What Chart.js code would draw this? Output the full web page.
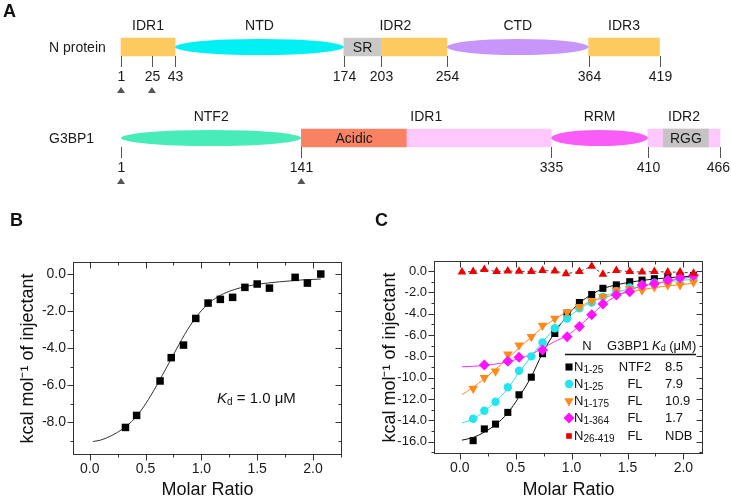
<!DOCTYPE html>
<html>
<head>
<meta charset="utf-8">
<script src="https://cdn.jsdelivr.net/npm/chart.js@4.4.1/dist/chart.umd.min.js"></script>
<style>
  body { margin: 0; background: #fff; width: 731px; height: 498px; overflow: hidden; position: relative; }
  canvas { position: absolute; }
</style>
</head>
<body>
<canvas id="chartA" width="731" height="200" style="left:0;top:0"></canvas>
<canvas id="chartB" width="365" height="300" style="left:0;top:200px"></canvas>
<canvas id="chartC" width="366" height="300" style="left:365px;top:200px"></canvas>
<script>
// ---- panel A : domain maps (residue numbers) ----
var rowNames = ['N protein', 'G3BP1'];

var nDomains = ['IDR1', 'NTD', 'SR', 'IDR2', 'CTD', 'IDR3'];
var nStart = [1, 43, 174, 203, 254, 364];
var nEnd = [43, 174, 203, 254, 364, 419];
var nHeads = ['IDR1', 'NTD', 'IDR2', 'CTD', 'IDR3'];
var nHeadFrom = [1, 43, 174, 254, 364];
var nHeadTo = [43, 174, 254, 364, 419];
var nTicks = [1, 25, 43, 174, 203, 254, 364, 419];
var nMarks = [1, 25];

var gDomains = ['NTF2', 'Acidic', 'IDR1', 'RRM', 'IDR2', 'RGG'];
var gStart = [1, 141, 223, 335, 410, 422];
var gEnd = [141, 223, 335, 410, 466, 457];
var gHeads = ['NTF2', 'IDR1', 'RRM', 'IDR2'];
var gHeadFrom = [1, 141, 335, 410];
var gHeadTo = [141, 335, 410, 466];
var gTicks = [1, 141, 335, 410, 466];
var gMarks = [1, 141];

// ---- panel B : N1-25 vs NTF2 ----
var bRatio = [0.32, 0.42, 0.63, 0.73, 0.84, 0.95, 1.06, 1.17, 1.28, 1.39, 1.50, 1.61, 1.84, 1.95, 2.07];
var bHeat = [-8.29, -7.64, -5.78, -4.52, -3.84, -2.40, -1.57, -1.37, -1.26, -0.72, -0.54, -0.76, -0.18, -0.49, 0.0];
var bFitRatio = [0.03, 0.1, 0.2, 0.3, 0.4, 0.5, 0.6, 0.7, 0.8, 0.9, 1.0, 1.1, 1.2, 1.3, 1.4, 1.5, 1.6, 1.7, 1.8, 1.9, 2.07];
var bFitHeat = [-9.05, -8.97, -8.72, -8.35, -7.82, -7.02, -6.02, -4.92, -3.8, -2.78, -1.98, -1.42, -1.06, -0.83, -0.67, -0.56, -0.48, -0.42, -0.37, -0.32, -0.27];
var bXTicks = [0, 0.5, 1.0, 1.5, 2.0];
var bYTicks = [0, -2, -4, -6, -8];

// ---- panel C : ITC of N fragments ----
var cRatio = [0.12, 0.22, 0.32, 0.43, 0.53, 0.64, 0.74, 0.85, 0.96, 1.07, 1.18, 1.28, 1.40, 1.52, 1.63, 1.74, 1.86, 1.97, 2.09];
var cN125Ntf2 = [-15.9, -14.8, -14.35, -13.25, -11.6, -9.95, -7.75, -5.85, -3.95, -2.95, -2.2, -1.62, -1.3, -1.0, -0.85, -0.72, -0.56, -0.47, -0.42];
var cN125FL = [-13.85, -13.1, -12.25, -10.9, -9.35, -8.0, -6.7, -5.37, -4.45, -3.5, -2.95, -2.4, -1.9, -1.55, -1.3, -1.1, -0.9, -0.75, -0.65];
var cN1175FL = [-11.0, -10.0, -9.4, -7.8, -6.95, -6.15, -5.1, -4.45, -3.87, -3.35, -2.8, -2.4, -1.8, -1.65, -1.8, -1.5, -1.3, -1.3, -1.05];
var cMagRatio = [0.22, 0.43, 0.53, 0.74, 0.96, 1.07, 1.18, 1.28, 1.40, 1.52, 1.63, 1.74, 1.86, 1.97, 2.09];
var cN1364FL = [-8.8, -8.45, -8.07, -7.4, -6.16, -5.2, -4.1, -3.1, -2.25, -1.94, -1.31, -1.16, -0.84, -0.62, -0.41];
var cRedRatio = [0.02, 0.12, 0.22, 0.33, 0.43, 0.53, 0.64, 0.74, 0.85, 0.95, 1.07, 1.18, 1.28, 1.40, 1.52, 1.63, 1.74, 1.86, 1.97, 2.09];
var cN26419FL = [-0.1, -0.05, 0.15, -0.05, 0.0, -0.02, -0.05, 0.05, 0.0, -0.25, -0.05, 0.45, -0.3, 0.05, -0.05, -0.1, -0.05, -0.1, -0.1, -0.2];

var cFitRatio = [0.02, 0.12, 0.22, 0.32, 0.43, 0.53, 0.64, 0.74, 0.85, 0.96, 1.07, 1.18, 1.28, 1.40, 1.52, 1.63, 1.74, 1.86, 1.97, 2.09];
var cFitBlack = [-15.85, -15.6, -15.1, -14.4, -13.3, -11.8, -9.9, -7.7, -5.75, -4.2, -3.0, -2.2, -1.65, -1.3, -1.05, -0.88, -0.75, -0.63, -0.55, -0.48];
var cFitCyan = [-14.25, -13.85, -13.15, -12.25, -11.0, -9.5, -8.0, -6.65, -5.4, -4.4, -3.55, -2.9, -2.4, -2.0, -1.65, -1.4, -1.2, -1.0, -0.88, -0.78];
var cFitOrange = [-11.6, -10.9, -10.1, -9.2, -8.2, -7.2, -6.2, -5.3, -4.5, -3.85, -3.3, -2.85, -2.5, -2.2, -1.95, -1.75, -1.55, -1.4, -1.28, -1.15];
var cFitMagenta = [-8.97, -8.93, -8.85, -8.72, -8.5, -8.2, -7.8, -7.25, -6.6, -6.05, -5.15, -4.1, -3.15, -2.35, -1.8, -1.4, -1.2, -0.95, -0.72, -0.55];
var cXTicks = [0, 0.5, 1.0, 1.5, 2.0];
var cYTicks = [0, -2, -4, -6, -8, -10, -12, -14, -16];

var legN = ['N', 'N', 'N', 'N', 'N'];
var legSub = ['1-25', '1-25', '1-175', '1-364', '26-419'];
var legPartner = ['NTF2', 'FL', 'FL', 'FL', 'FL'];
var legKd = ['8.5', '7.9', '10.9', '1.7', 'NDB'];

var FONT = '"Liberation Sans", Arial, sans-serif';
Chart.defaults.font.family = FONT;
Chart.defaults.color = '#1a1a1a';

var domainColors = {
  'N:IDR1': '#fdca60', 'N:NTD': '#00f0f4', 'N:SR': '#c8c8c8', 'N:IDR2': '#fdca60',
  'N:CTD': '#c896fa', 'N:IDR3': '#fdca60',
  'G:NTF2': '#48ecb6', 'G:Acidic': '#fa8264', 'G:IDR1': '#ffc8fc', 'G:RRM': '#fa5cf8',
  'G:IDR2': '#ffc8fc', 'G:RGG': '#c4c4c4'
};
var ellipseDomains = ['NTD', 'CTD', 'NTF2', 'RRM'];
var insideLabels = ['SR', 'Acidic', 'RGG'];

function panelLetter(ctx, t, x, y) {
  ctx.save();
  ctx.fillStyle = '#111';
  ctx.font = 'bold 18px ' + FONT;
  ctx.textBaseline = 'middle';
  ctx.textAlign = 'left';
  ctx.fillText(t, x, y);
  ctx.restore();
}

// draws the domain shapes, labels, residue ticks and arrows
var domainPlugin = {
  id: 'domainPlugin',
  afterDatasetsDraw: function (chart) {
    var ctx = chart.ctx, xs = chart.scales.x;
    ctx.save();
    chart.data.datasets.forEach(function (ds, di) {
      chart.getDatasetMeta(di).data.forEach(function (bar, i) {
        var d = ds.data[i];
        var cx = (bar.x + bar.base) / 2, w = Math.abs(bar.x - bar.base);
        if (ellipseDomains.indexOf(d.name) >= 0) {
          ctx.fillStyle = domainColors[d.key];
          ctx.beginPath();
          ctx.ellipse(cx, bar.y, w / 2, bar.height / 2 - 1, 0, 0, Math.PI * 2);
          ctx.fill();
        }
        if (insideLabels.indexOf(d.name) >= 0) {
          ctx.fillStyle = '#1a1a1a';
          ctx.font = '14px ' + FONT;
          ctx.textAlign = 'center';
          ctx.textBaseline = 'middle';
          ctx.fillText(d.name, cx, bar.y + 1);
        }
      });
    });

    var rows = [
      { heads: nHeads, from: nHeadFrom, to: nHeadTo, ticks: nTicks, marks: nMarks },
      { heads: gHeads, from: gHeadFrom, to: gHeadTo, ticks: gTicks, marks: gMarks }
    ];
    rows.forEach(function (r, ri) {
      var y = chart.scales.y.getPixelForValue(ri);
      ctx.fillStyle = '#1a1a1a';
      ctx.font = '14px ' + FONT;
      ctx.textBaseline = 'middle';
      ctx.textAlign = 'left';
      ctx.fillText(rowNames[ri], 49, y + 1);
      ctx.textAlign = 'center';
      r.heads.forEach(function (h, i) {
        var cx = (xs.getPixelForValue(r.from[i]) + xs.getPixelForValue(r.to[i])) / 2;
        ctx.fillText(h, cx, y - 20.5);
      });
      ctx.strokeStyle = '#555';
      ctx.lineWidth = 1;
      r.ticks.forEach(function (t) {
        var px = Math.round(xs.getPixelForValue(t)) + 0.5;
        ctx.beginPath();
        ctx.moveTo(px, y + 9);
        ctx.lineTo(px, y + 20);
        ctx.stroke();
        // keep the last number inside the page edge
        var tx = Math.min(px, chart.width - ctx.measureText(String(t)).width / 2 - 1);
        ctx.fillText(String(t), tx, y + 30.5);
      });
      ctx.fillStyle = '#555';
      r.marks.forEach(function (m) {
        var px = xs.getPixelForValue(m);
        ctx.beginPath();
        ctx.moveTo(px, y + 40);
        ctx.lineTo(px + 4, y + 46);
        ctx.lineTo(px - 4, y + 46);
        ctx.closePath();
        ctx.fill();
      });
    });
    ctx.restore();
    panelLetter(ctx, 'A', 3, 12);
  }
};

function domainData(row, names, starts, ends, prefix) {
  return names.map(function (d, i) {
    return { x: [starts[i], ends[i]], y: row, name: d, key: prefix + d };
  });
}
function domainFill(names, prefix) {
  return names.map(function (d) {
    return ellipseDomains.indexOf(d) >= 0 ? 'rgba(0,0,0,0)' : domainColors[prefix + d];
  });
}

new Chart(document.getElementById('chartA'), {
  type: 'bar',
  data: {
    labels: rowNames,
    datasets: [
      { label: 'N protein', data: domainData(rowNames[0], nDomains, nStart, nEnd, 'N:'),
        backgroundColor: domainFill(nDomains, 'N:'), borderWidth: 0, barThickness: 18, grouped: false },
      { label: 'G3BP1', data: domainData(rowNames[1], gDomains, gStart, gEnd, 'G:'),
        backgroundColor: domainFill(gDomains, 'G:'), borderWidth: 0, barThickness: 18, grouped: false }
    ]
  },
  options: {
    indexAxis: 'y',
    responsive: false,
    animation: false,
    layout: { padding: { left: 49, right: 0, top: 1.5, bottom: 16.5 } },
    plugins: { legend: { display: false }, tooltip: { enabled: false }, colors: { enabled: false } },
    scales: {
      x: { type: 'linear', min: -15.3, max: 474.5, display: false },
      y: {
        type: 'category', offset: true,
        grid: { display: false }, border: { display: false },
        ticks: { display: false },
        afterFit: function (s) { s.width = 51; }
      }
    }
  },
  plugins: [domainPlugin]
});

// frame with major + minor ticks on all four sides
var frameTicks = {
  id: 'frameTicks',
  afterDatasetsDraw: function (chart) {
    var ctx = chart.ctx, a = chart.chartArea, xs = chart.scales.x, ys = chart.scales.y;
    ctx.save();
    ctx.strokeStyle = '#333';
    ctx.lineWidth = 1;
    var L = Math.round(a.left) + 0.5, R = Math.round(a.right) - 0.5;
    var T = Math.round(a.top) + 0.5, B = Math.round(a.bottom) - 0.5;
    ctx.strokeRect(L, T, R - L, B - T);
    function marks(scale) {
      var maj = scale.ticks.map(function (t) { return t.value; });
      var step = Math.abs(maj[1] - maj[0]);
      var out = [];
      maj.forEach(function (m) {
        out.push([m, 6]);
        [m - step / 2, m + step / 2].forEach(function (v) {
          if (v > scale.min && v < scale.max && maj.indexOf(v) < 0 &&
              !out.some(function (o) { return Math.abs(o[0] - v) < 1e-9; })) out.push([v, 3]);
        });
      });
      return out;
    }
    ctx.beginPath();
    marks(xs).forEach(function (m) {
      var px = Math.round(xs.getPixelForValue(m[0])) + 0.5;
      ctx.moveTo(px, B); ctx.lineTo(px, B + m[1]);
      ctx.moveTo(px, T); ctx.lineTo(px, T + m[1]);
    });
    marks(ys).forEach(function (m) {
      var py = Math.round(ys.getPixelForValue(m[0])) + 0.5;
      ctx.moveTo(L, py); ctx.lineTo(L - m[1], py);
      ctx.moveTo(R, py); ctx.lineTo(R - m[1], py);
    });
    ctx.stroke();
    ctx.restore();
  }
};

function pts(xs, ys) {
  return xs.map(function (x, i) { return { x: x, y: ys[i] }; });
}

function itcScales(xMin, xMax, yMin, yMax, xTicks, yTicks, yw, xh, yTitlePad, tickSize) {
  return {
    x: {
      type: 'linear', min: xMin, max: xMax,
      grid: { display: false, drawTicks: false }, border: { display: false },
      afterBuildTicks: function (s) { s.ticks = xTicks.map(function (v) { return { value: v }; }); },
      ticks: { padding: 6, color: '#1a1a1a', font: { size: 14 }, maxRotation: 0,
        callback: function (v) { return Number(v).toFixed(1); } },
      title: { display: true, text: 'Molar Ratio', color: '#111', font: { size: 18, lineHeight: 1 }, padding: { top: 0, bottom: 1 } },
      afterFit: function (s) { s.height = xh; }
    },
    y: {
      type: 'linear', min: yMin, max: yMax,
      grid: { display: false, drawTicks: false }, border: { display: false },
      afterBuildTicks: function (s) { s.ticks = yTicks.map(function (v) { return { value: v }; }); },
      ticks: { padding: 7, color: '#1a1a1a', font: { size: tickSize },
        callback: function (v) { return Number(v).toFixed(1); } },
      title: { display: true, text: 'kcal mol\u207B\u00B9 of injectant', color: '#111', font: { size: 18, lineHeight: 1 }, padding: { top: yTitlePad, bottom: 0 } },
      afterFit: function (s) { s.width = yw; }
    }
  };
}

// text with italic K and subscript d
function kdText(ctx, x, y, size, tail) {
  ctx.font = 'italic ' + size + 'px ' + FONT;
  ctx.fillText('K', x, y);
  x += ctx.measureText('K').width;
  ctx.font = Math.round(size * 0.68) + 'px ' + FONT;
  ctx.fillText('d', x, y + size * 0.22);
  x += ctx.measureText('d').width;
  ctx.font = size + 'px ' + FONT;
  ctx.fillText(tail, x, y);
}

var bNotes = {
  id: 'bNotes',
  afterDraw: function (chart) {
    var ctx = chart.ctx;
    ctx.save();
    ctx.fillStyle = '#111';
    ctx.textAlign = 'left';
    ctx.textBaseline = 'middle';
    kdText(ctx, 217, 199, 15, ' = 1.0 \u03BCM');
    ctx.restore();
    panelLetter(ctx, 'B', 10, 21);
  }
};

new Chart(document.getElementById('chartB'), {
  type: 'scatter',
  data: {
    datasets: [
      { label: 'N1-25 / NTF2', data: pts(bRatio, bHeat), pointStyle: 'rect', pointRadius: 5.3,
        backgroundColor: '#000', borderWidth: 0 },
      { label: 'fit', data: pts(bFitRatio, bFitHeat), showLine: true, pointRadius: 0,
        borderColor: '#333', borderWidth: 1, cubicInterpolationMode: 'monotone' }
    ]
  },
  options: {
    responsive: false,
    animation: false,
    layout: { padding: { left: 0, right: 23, top: 62, bottom: 0 } },
    plugins: { legend: { display: false }, tooltip: { enabled: false } },
    scales: itcScales(-0.15, 2.26, -9.78, 0.65, bXTicks, bYTicks, 73, 45, 19, 14)
  },
  plugins: [frameTicks, bNotes]
});

var legendStyles = [
  { pointStyle: 'rect', radius: 5, color: '#000', rotation: 0 },
  { pointStyle: 'circle', radius: 4.2, color: '#22e5ef', rotation: 0 },
  { pointStyle: 'triangle', radius: 5.5, color: '#ff8a1a', rotation: 180 },
  { pointStyle: 'rectRot', radius: 5.5, color: '#ff14ff', rotation: 0 },
  { pointStyle: 'rect', radius: 4, color: '#ee0000', rotation: 0 }
];

var cLegend = {
  id: 'cLegend',
  afterDraw: function (chart) {
    var ctx = chart.ctx;
    ctx.save();
    ctx.fillStyle = '#111';
    ctx.textBaseline = 'middle';
    ctx.font = '13px ' + FONT;
    ctx.textAlign = 'center';
    ctx.fillText('N', 222, 146);
    ctx.fillText('G3BP1', 263, 146);
    ctx.textAlign = 'left';
    kdText(ctx, 287, 146, 13, ' (\u03BCM)');
    ctx.strokeStyle = '#111';
    ctx.lineWidth = 1.5;
    ctx.beginPath();
    ctx.moveTo(200, 154.5);
    ctx.lineTo(331, 154.5);
    ctx.stroke();
    var rowY = [167, 184, 201, 218, 236];
    legN.forEach(function (n, i) {
      var y = rowY[i], s = legendStyles[i];
      ctx.fillStyle = s.color;
      ctx.strokeStyle = s.color;
      Chart.helpers.drawPoint(ctx, { pointStyle: s.pointStyle, radius: s.radius, rotation: s.rotation, borderWidth: 0 }, 204, y);
      ctx.fillStyle = '#111';
      ctx.textAlign = 'left';
      ctx.font = '13px ' + FONT;
      ctx.fillText(n, 209, y);
      var w = ctx.measureText(n).width;
      ctx.font = '10px ' + FONT;
      ctx.fillText(legSub[i], 209 + w, y + 3);
      ctx.font = '13px ' + FONT;
      ctx.textAlign = 'center';
      ctx.fillText(legPartner[i], 270, y);
      ctx.textAlign = 'left';
      ctx.fillText(legKd[i], 300, y);
    });
    ctx.restore();
    panelLetter(ctx, 'C', 10, 21);
  }
};

new Chart(document.getElementById('chartC'), {
  type: 'scatter',
  data: {
    datasets: [
      { label: 'N26-419 FL', data: pts(cRedRatio, cN26419FL), showLine: true, pointStyle: 'triangle', pointRadius: 5,
        backgroundColor: '#ee0000', pointBorderWidth: 0, borderColor: '#444', borderWidth: 1, borderDash: [3, 3] },
      { label: 'N1-364 FL', data: pts(cMagRatio, cN1364FL), pointStyle: 'rectRot', pointRadius: 5.5,
        backgroundColor: '#ff14ff', borderWidth: 0 },
      { label: 'N1-175 FL', data: pts(cRatio, cN1175FL), pointStyle: 'triangle', rotation: 180, pointRadius: 5.5,
        backgroundColor: '#ff8a1a', borderWidth: 0 },
      { label: 'N1-25 FL', data: pts(cRatio, cN125FL), pointStyle: 'circle', pointRadius: 4.2,
        backgroundColor: '#22e5ef', borderWidth: 0 },
      { label: 'N1-25 NTF2', data: pts(cRatio, cN125Ntf2), pointStyle: 'rect', pointRadius: 5,
        backgroundColor: '#000', borderWidth: 0 },
      { label: 'fit N1-364', data: pts(cFitRatio, cFitMagenta), showLine: true, pointRadius: 0,
        borderColor: '#ff30ff', borderWidth: 1, cubicInterpolationMode: 'monotone' },
      { label: 'fit N1-175', data: pts(cFitRatio, cFitOrange), showLine: true, pointRadius: 0,
        borderColor: '#ff8a1a', borderWidth: 1, cubicInterpolationMode: 'monotone' },
      { label: 'fit N1-25 FL', data: pts(cFitRatio, cFitCyan), showLine: true, pointRadius: 0,
        borderColor: '#30e0e8', borderWidth: 1, cubicInterpolationMode: 'monotone' },
      { label: 'fit N1-25 NTF2', data: pts(cFitRatio, cFitBlack), showLine: true, pointRadius: 0,
        borderColor: '#111', borderWidth: 1, cubicInterpolationMode: 'monotone' }
    ]
  },
  options: {
    responsive: false,
    animation: false,
    layout: { padding: { left: 0, right: 28, top: 61, bottom: 0 } },
    plugins: { legend: { display: false }, tooltip: { enabled: false } },
    scales: itcScales(-0.23, 2.175, -17.15, 0.94, cXTicks, cYTicks, 69, 46, 16, 13)
  },
  plugins: [frameTicks, cLegend]
});
</script>
</body>
</html>
